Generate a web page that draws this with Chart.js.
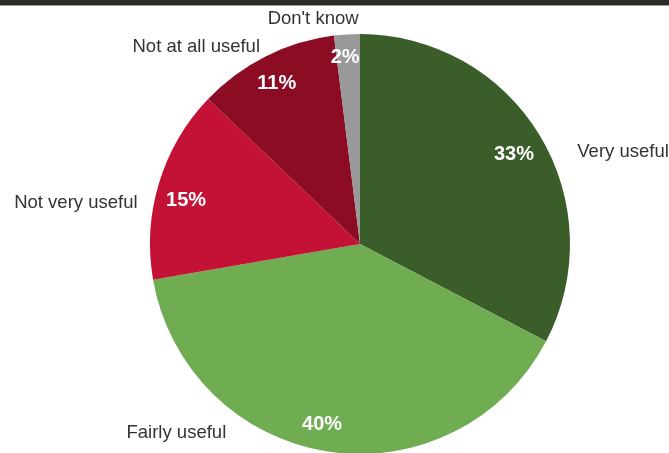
<!DOCTYPE html>
<html>
<head>
<meta charset="utf-8">
<script src="https://cdn.jsdelivr.net/npm/chart.js@4/dist/chart.umd.min.js"></script>
<style>
  html, body { margin: 0; padding: 0; background: #fff; overflow: hidden; }
  #wrap { position: relative; width: 669px; height: 453px; }
  #band { position: absolute; left: 0; top: 0; width: 669px; height: 5px; background: #2a2a26; border-bottom: 1px solid #a0a09a; z-index: 2; }
  canvas { position: absolute; left: 0; top: 0; }
</style>
</head>
<body>
<div id="wrap">
  <div id="band"></div>
  <canvas id="pie" width="669" height="453"></canvas>
</div>
<script>
// Survey answers and their shares (percent)
const categories = ['Very useful', 'Fairly useful', 'Not very useful', 'Not at all useful', "Don't know"];
const shares = [33, 40, 15, 11, 2];
const sliceColors = ['#3b5d2a', '#70ac51', '#c31236', '#8c0c24', '#999999'];

// Label placement per slice: angle shift from the slice middle (degrees)
// and distance from the centre as a multiple of the radius.
const valuePlacement = [
  { shift: 1.0, dist: 0.848 },
  { shift: 3.0, dist: 0.876 },
  { shift: -3.0, dist: 0.853 },
  { shift: -0.6, dist: 0.863 },
  { shift: -1.0, dist: 0.889 }
];
const namePlacement = [
  { shift: 11.8, dist: 1.328 },
  { shift: 35.3, dist: 1.254 },
  { shift: -8.7, dist: 1.367 },
  { shift: -13.0, dist: 1.22 },
  { shift: -8.2, dist: 1.095 }
];

function polar(p, mid, place) {
  const a = mid + place.shift * Math.PI / 180;
  const d = p.outerRadius * place.dist;
  return [p.x + d * Math.cos(a), p.y + d * Math.sin(a)];
}

const sliceLabels = {
  id: 'sliceLabels',
  afterDatasetsDraw(chart) {
    const ctx = chart.ctx;
    const meta = chart.getDatasetMeta(0);
    const values = chart.data.datasets[0].data;
    ctx.save();
    ctx.textAlign = 'center';
    ctx.textBaseline = 'middle';
    meta.data.forEach((arc, i) => {
      const p = arc.getProps(['x', 'y', 'startAngle', 'endAngle', 'outerRadius'], true);
      const mid = (p.startAngle + p.endAngle) / 2;
      // value inside the slice
      const [vx, vy] = polar(p, mid, valuePlacement[i]);
      ctx.font = 'bold 20px "Liberation Sans", Arial, sans-serif';
      ctx.fillStyle = '#ffffff';
      ctx.fillText(values[i] + '%', vx, vy);
      // category name outside the pie
      const [nx, ny] = polar(p, mid, namePlacement[i]);
      ctx.font = '18.5px "Liberation Sans", Arial, sans-serif';
      ctx.fillStyle = '#333333';
      ctx.fillText(chart.data.labels[i], nx, ny);
    });
    ctx.restore();
  }
};

new Chart(document.getElementById('pie'), {
  type: 'pie',
  data: {
    labels: categories,
    datasets: [{
      data: shares,
      backgroundColor: sliceColors,
      borderWidth: 0,
      hoverOffset: 0,
      offset: 0,
      clip: false
    }]
  },
  options: {
    responsive: false,
    animation: false,
    radius: 210,
    layout: { padding: { top: 35, bottom: 0, left: 51, right: 0 } },
    plugins: {
      legend: { display: false },
      tooltip: { enabled: false }
    }
  },
  plugins: [sliceLabels]
});
</script>
</body>
</html>
